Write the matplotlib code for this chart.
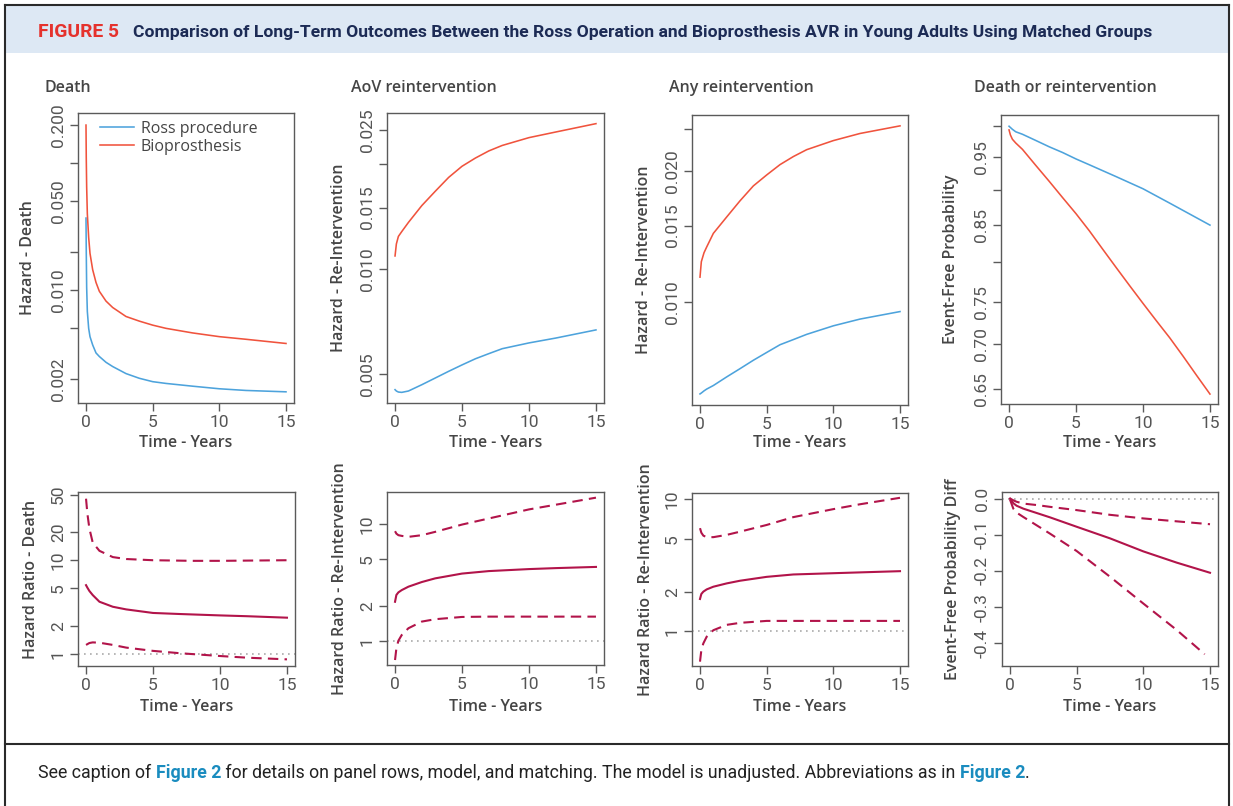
import matplotlib
matplotlib.use("Agg")
import matplotlib.pyplot as plt
from matplotlib.ticker import FixedLocator, FixedFormatter, NullLocator
from matplotlib.lines import Line2D
from matplotlib.patches import Rectangle

# ---------------------------------------------------------------- data
# Death hazard
t_death_ross = [0, 0.02, 0.05, 0.1, 0.2, 0.3, 0.5, 0.75, 1, 1.5, 2, 3, 4, 5, 6, 8, 10, 12, 15]
death_ross = [0.037, 0.02, 0.0105, 0.0068, 0.0050, 0.0043, 0.0037, 0.0032, 0.0030, 0.0027,
              0.0025, 0.0022, 0.00202, 0.0019, 0.00184, 0.00175, 0.00167, 0.00162, 0.00158]
t_death_bio = [0, 0.02, 0.05, 0.1, 0.2, 0.3, 0.5, 0.75, 1, 1.5, 2, 3, 4, 5, 6, 8, 10, 12, 15]
death_bio = [0.2, 0.11, 0.065, 0.04, 0.026, 0.0195, 0.0145, 0.0115, 0.0098, 0.0082,
             0.0073, 0.0062, 0.0057, 0.0053, 0.0050, 0.0046, 0.0043, 0.0041, 0.0038]

# AoV reintervention hazard
t_aov = [0, 0.1, 0.25, 0.5, 1, 2, 3, 4, 5, 6, 7, 8, 10, 12, 15]
aov_ross = [0.00451, 0.00447, 0.00444, 0.00443, 0.00447, 0.00466, 0.00487, 0.00509,
            0.00531, 0.00553, 0.00572, 0.00591, 0.00614, 0.00634, 0.00669]
aov_bio = [0.0109, 0.0118, 0.0124, 0.0128, 0.0136, 0.0152, 0.0167, 0.0183,
           0.0197, 0.0208, 0.0218, 0.0226, 0.0238, 0.0247, 0.0261]

# Any reintervention hazard
t_any = [0, 0.1, 0.3, 0.5, 1, 2, 3, 4, 5, 6, 7, 8, 10, 12, 15]
any_ross = [0.00617, 0.00620, 0.00627, 0.00633, 0.00645, 0.00675, 0.00705, 0.00737,
            0.00768, 0.00800, 0.00822, 0.00845, 0.00884, 0.00916, 0.00953]
any_bio = [0.01143, 0.0124, 0.0130, 0.0134, 0.0144, 0.0157, 0.0171, 0.0185,
           0.0196, 0.0207, 0.0216, 0.0224, 0.0235, 0.0244, 0.0254]

# Death or reintervention, event-free probability
t_ef_ross = [0, 0.25, 0.5, 1, 2, 3, 4, 5, 6, 8, 10, 12, 15]
ef_ross = [0.999, 0.994, 0.990, 0.986, 0.976, 0.966, 0.957, 0.947, 0.938, 0.920, 0.902, 0.881, 0.850]
t_ef_bio = [0, 0.1, 0.25, 0.5, 1, 2, 3, 4, 5, 6, 7, 8, 9, 10, 11, 12, 13, 14, 15]
ef_bio = [0.993, 0.985, 0.978, 0.972, 0.962, 0.937, 0.913, 0.889, 0.866, 0.842, 0.817,
          0.793, 0.770, 0.748, 0.727, 0.707, 0.686, 0.665, 0.645]

# Hazard ratio - death (estimate with confidence limits)
t_hr_death = [0, 0.1, 0.25, 0.5, 1, 2, 3, 5, 7, 10, 12, 15]
hr_death = [5.42, 5.1, 4.7, 4.25, 3.61, 3.19, 2.99, 2.74, 2.67, 2.58, 2.53, 2.44]
t_hr_death_up = [0, 0.1, 0.25, 0.5, 1, 2, 3, 5, 8, 10, 15]
hr_death_up = [45.3, 31.4, 21.8, 15.4, 12.6, 10.8, 10.3, 10.0, 9.85, 9.85, 10.0]
t_hr_death_lo = [0, 0.25, 0.5, 1, 2, 3, 5, 7, 10, 12, 15]
hr_death_lo = [1.25, 1.31, 1.33, 1.32, 1.25, 1.17, 1.08, 1.02, 0.952, 0.914, 0.877]

# Hazard ratio - AoV reintervention
t_hr_aov = [0, 0.1, 0.25, 0.5, 1, 2, 3, 5, 7, 10, 12, 15]
hr_aov = [2.16, 2.47, 2.6, 2.72, 2.91, 3.19, 3.43, 3.77, 3.96, 4.12, 4.2, 4.30]
hr_aov_up = [8.71, 8.3, 8.05, 7.94, 7.79, 8.05, 8.6, 9.93, 11.2, 13.4, 14.7, 16.9]
t_hr_aov_lo = [0, 0.1, 0.25, 0.5, 1, 2, 3, 5, 7, 10, 15]
hr_aov_lo = [0.683, 0.86, 1.0, 1.12, 1.28, 1.46, 1.53, 1.60, 1.61, 1.61, 1.61]

# Hazard ratio - any reintervention
t_hr_any = [0, 0.1, 0.25, 0.5, 1, 2, 3, 5, 7, 10, 12, 15]
hr_any = [1.76, 1.92, 2.0, 2.08, 2.18, 2.31, 2.42, 2.59, 2.70, 2.76, 2.80, 2.86]
hr_any_up = [6.06, 5.6, 5.32, 5.18, 5.18, 5.39, 5.7, 6.41, 7.35, 8.45, 9.2, 10.3]
t_hr_any_lo = [0, 0.1, 0.25, 0.5, 1, 2, 3, 5, 7, 10, 15]
hr_any_lo = [0.589, 0.72, 0.81, 0.91, 1.02, 1.12, 1.16, 1.20, 1.20, 1.20, 1.20]

# Event-free probability difference
t_diff = [0, 0.25, 0.5, 1, 2, 3, 5, 7.5, 10, 12.5, 15]
ef_diff = [0, -0.013, -0.02, -0.028, -0.040, -0.052, -0.078, -0.110, -0.146, -0.177, -0.205]
ef_diff_up = [0, -0.005, -0.009, -0.014, -0.018, -0.023, -0.032, -0.045, -0.055, -0.063, -0.071]
t_diff_lo = [0, 0.25, 0.5, 1, 2, 3, 5, 7.5, 10, 12.5, 14.6]
ef_diff_lo = [-0.003, -0.028, -0.039, -0.051, -0.074, -0.097, -0.145, -0.216, -0.290, -0.363, -0.43]

x_ticks = [0, 5, 10, 15]
series_names = ["Ross procedure", "Bioprosthesis"]
panel_titles = ["Death", "AoV reintervention", "Any reintervention", "Death or reintervention"]

# ---------------------------------------------------------------- style
W, H = 1233, 806
BLUE = "#4DA3DC"
RED = "#F0533D"
CRIMSON = "#B2144A"
TXT = "#454545"
TICKTXT = "#555555"
FRAME = "#5A5A5A"
REF = "#AAAAAA"
FONT = ["Open Sans", "DejaVu Sans"]
TICK_FONT = ["Roboto", "DejaVu Sans"]
plt.rcParams["font.family"] = FONT

fig = plt.figure(figsize=(W / 100, H / 100), dpi=100)


def fy(y):
    return 1 - y / H


def panel(l, t, r, b):
    return fig.add_axes([l / W, 1 - b / H, (r - l) / W, (b - t) / H])


def style(ax, yscale, ylim, yticks, ylabels, ylabel, ylab_x):
    ax.set_yscale(yscale)
    ax.set_xlim(-0.6, 15.6)
    ax.set_ylim(*ylim)
    ax.xaxis.set_major_locator(FixedLocator(x_ticks))
    ax.xaxis.set_minor_locator(NullLocator())
    ax.yaxis.set_major_locator(FixedLocator(yticks))
    ax.yaxis.set_major_formatter(FixedFormatter(ylabels))
    ax.yaxis.set_minor_locator(NullLocator())
    ax.tick_params(axis="both", length=5.8, width=1.0, color=FRAME,
                   labelsize=12.5, labelcolor=TICKTXT, pad=3)
    ax.tick_params(axis="y", labelrotation=90)
    for tk in ax.xaxis.get_major_ticks() + ax.yaxis.get_major_ticks():
        tk.label1.set_family(TICK_FONT)
    for tk in ax.yaxis.get_major_ticks():
        tk.label1.set_va("center")
    for s in ax.spines.values():
        s.set_color(FRAME)
        s.set_linewidth(1.0)
    ax.set_xlabel("Time - Years", fontsize=11.5, color=TXT, fontweight="semibold", va="center")
    bb = ax.get_position()
    ax.set_ylabel(ylabel, fontsize=11.5, color=TXT, fontweight="semibold", va="center")
    ax.yaxis.set_label_coords((ylab_x / W - bb.x0) / bb.width, 0.5)


def xlabel_at(ax, y_px):
    bb = ax.get_position()
    ax.xaxis.set_label_coords(0.5, (fy(y_px) - bb.y0) / bb.height)


LW = 1.15
HLW = 1.5
DASH = (0, (5, 3))
DOT = (0, (1, 2.6))

# ---------------------------------------------------------------- top row
ax1 = panel(78, 113, 294, 403)
ax1.plot(t_death_ross, death_ross, color=BLUE, lw=LW, label=series_names[0])
ax1.plot(t_death_bio, death_bio, color=RED, lw=LW, label=series_names[1])
style(ax1, "log", (0.00129, 0.249), [0.002, 0.005, 0.01, 0.02, 0.05, 0.1, 0.2],
      ["0.002", "", "0.010", "", "0.050", "", "0.200"], "Hazard - Death", 28)
ax1.legend(loc="upper left", bbox_to_anchor=(100 / W, fy(121)), bbox_transform=fig.transFigure,
           frameon=False, fontsize=11.5, handlelength=2.1, handletextpad=0.45,
           labelspacing=0.12, borderpad=0, borderaxespad=0, labelcolor=TXT)

ax2 = panel(387, 113, 604, 403)
ax2.plot(t_aov, aov_ross, color=BLUE, lw=LW)
ax2.plot(t_aov, aov_bio, color=RED, lw=LW)
style(ax2, "log", (0.00413, 0.0280), [0.005, 0.010, 0.015, 0.020, 0.025],
      ["0.005", "0.010", "0.015", "", "0.025"], "Hazard - Re-Intervention", 339)

ax3 = panel(692, 115, 908, 405)
ax3.plot(t_any, any_ross, color=BLUE, lw=LW)
ax3.plot(t_any, any_bio, color=RED, lw=LW)
style(ax3, "log", (0.00582, 0.0269), [0.010, 0.015, 0.020, 0.025],
      ["0.010", "0.015", "0.020", ""], "Hazard - Re-Intervention", 644)

ax4 = panel(1001, 115, 1218, 404)
ax4.plot(t_ef_ross, ef_ross, color=BLUE, lw=LW)
ax4.plot(t_ef_bio, ef_bio, color=RED, lw=LW)
style(ax4, "log", (0.6346, 1.0175), [0.65, 0.70, 0.75, 0.80, 0.85, 0.90, 0.95, 1.00],
      ["0.65", "0.70", "0.75", "", "0.85", "", "0.95", ""], "Event-Free Probability", 951)

for ax in (ax1, ax2, ax3, ax4):
    xlabel_at(ax, 443)

title_x = [45, 351, 669, 974]
for tx, ttl in zip(title_x, panel_titles):
    fig.text(tx / W, fy(88), ttl, fontsize=11.5, color=TXT, fontweight="semibold",
             ha="left", va="center")

# ---------------------------------------------------------------- bottom row
ax5 = panel(78, 492, 295, 666)
ax5.axhline(1, color=REF, lw=1.2, ls=DOT)
ax5.plot(t_hr_death, hr_death, color=CRIMSON, lw=HLW)
ax5.plot(t_hr_death_up, hr_death_up, color=CRIMSON, lw=HLW, ls=DASH)
ax5.plot(t_hr_death_lo, hr_death_lo, color=CRIMSON, lw=HLW, ls=DASH)
style(ax5, "log", (0.745, 53.4), [1, 2, 5, 10, 20, 50],
      ["1", "2", "5", "10", "20", "50"], "Hazard Ratio - Death", 31)

ax6 = panel(387, 492, 604, 665)
ax6.axhline(1, color=REF, lw=1.2, ls=DOT)
ax6.plot(t_hr_aov, hr_aov, color=CRIMSON, lw=HLW)
ax6.plot(t_hr_aov, hr_aov_up, color=CRIMSON, lw=HLW, ls=DASH)
ax6.plot(t_hr_aov_lo, hr_aov_lo, color=CRIMSON, lw=HLW, ls=DASH)
style(ax6, "log", (0.619, 18.9), [1, 2, 5, 10], ["1", "2", "5", "10"],
      "Hazard Ratio - Re-Intervention", 340)

ax7 = panel(692, 493, 908, 666)
ax7.axhline(1, color=REF, lw=1.2, ls=DOT)
ax7.plot(t_hr_any, hr_any, color=CRIMSON, lw=HLW)
ax7.plot(t_hr_any, hr_any_up, color=CRIMSON, lw=HLW, ls=DASH)
ax7.plot(t_hr_any_lo, hr_any_lo, color=CRIMSON, lw=HLW, ls=DASH)
style(ax7, "log", (0.546, 11.2), [1, 2, 5, 10], ["1", "2", "5", "10"],
      "Hazard Ratio - Re-Intervention", 646)

ax8 = panel(1002, 492, 1218, 666)
ax8.axhline(0, color=REF, lw=1.2, ls=DOT)
ax8.plot(t_diff, ef_diff, color=CRIMSON, lw=HLW)
ax8.plot(t_diff, ef_diff_up, color=CRIMSON, lw=HLW, ls=DASH)
ax8.plot(t_diff_lo, ef_diff_lo, color=CRIMSON, lw=HLW, ls=DASH)
style(ax8, "linear", (-0.4625, 0.018), [-0.4, -0.3, -0.2, -0.1, 0.0],
      ["-0.4", "-0.3", "-0.2", "-0.1", "0.0"], "Event-Free Probability Diff", 953)

for ax in (ax5, ax6, ax7, ax8):
    xlabel_at(ax, 707)

# ---------------------------------------------------------------- frame, header, caption
fig.add_artist(Rectangle((6 / W, fy(53)), (1228 - 6) / W, (53 - 6) / H,
                         transform=fig.transFigure, facecolor="#DDE8F4", edgecolor="none", zorder=0))
for xs, ys in [((5, 1229), (5, 5)), ((5, 5), (5, 806)), ((1229, 1229), (5, 806)),
               ((5, 1229), (744, 744))]:
    fig.add_artist(Line2D([x / W for x in xs], [fy(y) for y in ys], transform=fig.transFigure,
                          color="#2A2A2A", lw=1.5))

renderer = fig.canvas.get_renderer()


def fitted(x, y, s, width_px, **kw):
    t = fig.text(x / W, fy(y), s, ha="left", va="center", **kw)
    w = t.get_window_extent(renderer).width
    t.set_fontsize(t.get_fontsize() * width_px / w)
    return t


HEAD_FONT = ["Roboto", "DejaVu Sans"]
fitted(38, 32, "FIGURE 5", 81, fontsize=11, fontweight="bold", color="#E5322D", family=HEAD_FONT)
fitted(133, 32, "Comparison of Long-Term Outcomes Between the Ross Operation and Bioprosthesis "
       "AVR in Young Adults Using Matched Groups", 1015, fontsize=11, fontweight="bold",
       color="#1C2B55", family=HEAD_FONT)

caption = [("See caption of ", "normal", "#222222"), ("Figure 2", "bold", "#1A8CBF"),
           (" for details on panel rows, model, and matching. The model is unadjusted. "
            "Abbreviations as in ", "normal", "#222222"),
           ("Figure 2", "bold", "#1A8CBF"), (".", "normal", "#222222")]


def draw_caption(size):
    objs = []
    x = 38
    for s, wgt, col in caption:
        t = fig.text(x / W, fy(773), s, ha="left", va="center", fontsize=size,
                     fontweight=wgt, color=col, family=HEAD_FONT)
        x += t.get_window_extent(renderer).width
        objs.append(t)
    return objs, x - 38


objs, total = draw_caption(11)
for o in objs:
    o.remove()
draw_caption(11 * 986 / total)

fig.savefig("out.png", dpi=100)
